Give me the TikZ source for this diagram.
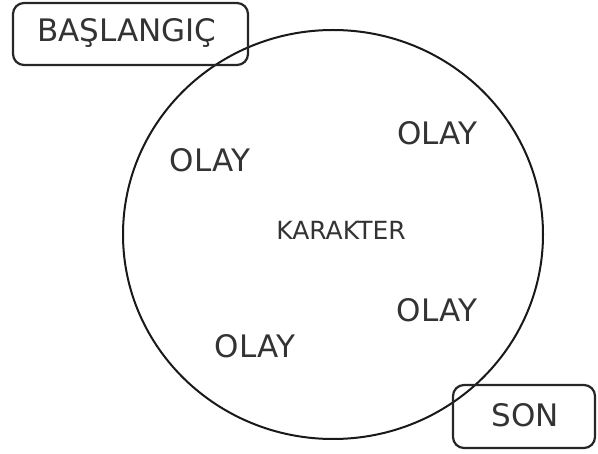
\documentclass[tikz,border=0pt]{standalone}
\usepackage{fontspec}
\setmainfont{DejaVu Sans}
\begin{document}
\begin{tikzpicture}[x=1pt,y=-1pt,
  bigtxt/.style={font=\fontsize{31}{35}\selectfont, text=black!80, anchor=base, inner sep=0pt},
  smalltxt/.style={font=\fontsize{25}{29}\selectfont, text=black!80, anchor=base, inner sep=0pt},
  endbox/.style={draw=black!85, line width=2.2pt, rounded corners=11pt, inner sep=0pt},
  ring/.style={draw=black!90, line width=2pt}]
\useasboundingbox (0,0) rectangle (598,454);
\draw[ring] (333,234.5) ellipse [x radius=210, y radius=204.5];
\node[endbox, minimum width=235pt, minimum height=62pt] (start) at (130.5,34) {};
\node[endbox, minimum width=142pt, minimum height=63pt] (end) at (524,416.5) {};
\node[bigtxt] (starttxt) at (127,42) {BAŞLANGIÇ};
\node[bigtxt] (endtxt) at (525,427) {SON};
\node[bigtxt] (olay1) at (437.5,145) {OLAY};
\node[bigtxt] (olay2) at (210,172) {OLAY};
\node[bigtxt] (olay3) at (437,322) {OLAY};
\node[bigtxt] (olay4) at (255,358) {OLAY};
\node[smalltxt] (char) at (341,240) {KARAKTER};
\end{tikzpicture}
\end{document}
